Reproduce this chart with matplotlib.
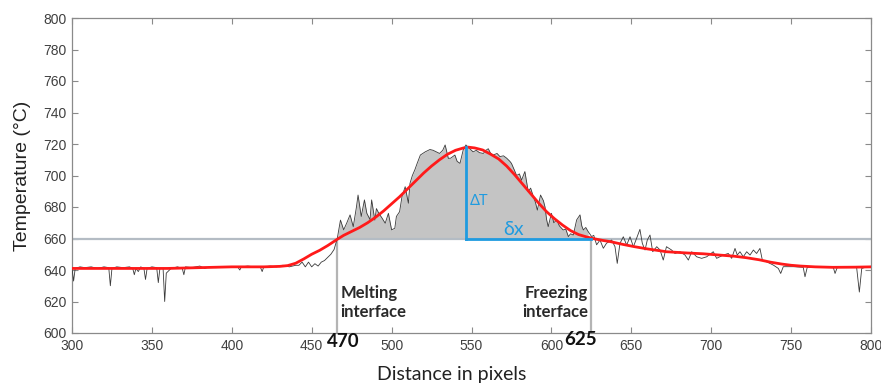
import numpy as np
import matplotlib
matplotlib.use("Agg")
from matplotlib import pyplot as plt

# measured trace (black, noisy)
meas_x = [300, 301, 302, 305, 308, 312, 316, 320, 323, 324, 325, 328, 332, 336, 338, 339, 340, 341.5, 343, 345,
          346, 347, 350, 353, 354, 355, 357, 358, 359, 362, 366, 369, 370, 371, 375, 380, 383, 386, 390, 395,
          400, 404, 405, 406, 410, 414, 418, 419, 420, 424, 428, 432, 436, 440,
          442, 444, 446, 448, 450, 452, 454, 456, 458, 460, 462, 464, 466,
          468, 470, 472, 474, 476, 478, 479, 481, 483, 484.5, 486.5, 487.5, 489.5, 490.5, 492, 494, 496, 498,
          500, 502, 503, 505, 506.5, 508.5, 510.5, 511.5, 513, 514.5, 516, 518, 521, 524, 526, 528, 530, 532,
          533.5, 535.5, 537, 539.6, 541, 542.8, 544.8, 546.5,
          549, 551, 553, 555, 557.4, 559, 560.5, 562, 563.6, 566, 567.8, 570, 572, 574, 575, 577, 578.2, 580,
          581.3, 583.4, 585.5, 587, 588.7, 590, 591.2, 593.2, 595, 596, 597, 598, 600, 601.5, 603.3, 605, 607.4,
          609, 610.6, 612, 613.7, 615.8, 617.9, 619, 620, 621.5, 623, 625.2, 626.5, 628.3, 630.4, 632.5, 634.5,
          637.7, 639.8, 641.2, 642.9, 645, 647.1, 649.2, 651.3, 652.9, 654.4, 655.4, 656.9, 658.6, 660, 661.7,
          663.4, 665.9, 668, 670, 672, 675.2, 677.3, 680.5, 683.6, 685.7, 687.8, 690.9, 694, 697.2, 701.3, 703.4,
          707.6, 710.7, 712.8, 714.9, 716.3, 718, 720.1, 722.2, 724.3, 726.4, 728.4, 730.5, 732, 734.7, 738.9,
          742, 743.5, 745.1, 751.4, 757.6, 758.7, 760.1, 768.1, 776.4, 777.5, 778.9, 791, 792.7, 794.2, 797.3, 800]
meas_t = [641, 633, 641, 642, 641.5, 642, 641, 642, 641.5, 630, 641, 642, 641.5, 642, 641, 637, 641, 639, 642, 641,
          634, 641, 642, 641.5, 632, 641, 641, 620, 638, 641, 642, 641, 637, 642, 641.5, 642.5, 641, 642, 641.5, 642,
          642, 641.5, 640, 642, 642.5, 642, 641.5, 639, 642, 642.5, 642, 643, 642, 643,
          643, 645, 642, 645, 642, 644, 642.5, 645, 646, 648, 650, 653, 660,
          671.7, 665.5, 670, 675, 667.5, 680, 687.6, 674, 684.5, 676, 672, 684.5, 671.7, 679, 676, 673, 669.7, 676,
          665.5, 666.5, 674, 677, 686.6, 692.9, 682.4, 695, 700, 703.5, 707.7, 713, 715, 716.5, 716, 715, 714, 716,
          719.4, 710.9, 711, 713, 709, 707.7, 716.2, 719.4,
          717, 715, 716, 714.5, 714, 716, 717, 714, 713, 714, 712, 712.5, 711, 709, 707.7, 703, 700, 701,
          697, 702.5, 689.8, 692, 686.6, 683, 678, 687.6, 684, 680, 672, 667.5, 676, 670, 671.8, 668, 665.4,
          666, 661.2, 663, 662.2, 671.8, 675, 668, 665.4, 667, 664.4, 661.2, 662, 656, 659, 653.8, 657,
          659, 654.8, 644.2, 656.9, 661.1, 655.8, 661.1, 654.8, 659, 663.2, 665.8, 656.9, 652.7, 659, 662.2,
          651.6, 654.8, 652.7, 646.3, 654.8, 652.7, 650.5, 651.6, 649.5, 646.3, 651.6, 648.4, 647.4, 648.4, 651.6, 647.4,
          649.5, 650.5, 647.4, 653.7, 649.5, 651.6, 648.4, 651.6, 649.5, 652.7, 650.5, 653.7, 646.3, 645.2, 643.1,
          641, 637.8, 642.1, 642.1, 641.7, 635.7, 641.7, 641.7, 641.7, 637.8, 641.7, 641.7, 626, 641, 642, 642]

# fitted profile (red)
fit_x = [300, 320, 340, 360, 380, 400, 420, 430, 435, 440, 445, 450, 455, 460, 463, 466, 470, 475, 480, 485, 490,
         495, 500, 505, 510, 515, 520, 525, 530, 535, 540, 545, 548, 552, 557, 562, 567, 572, 577, 582, 587, 592,
         597, 602, 607, 612, 617, 622, 627, 632, 637, 645, 652, 660, 672, 685, 695, 705, 714, 722, 730, 737, 744,
         750, 756, 765, 776, 790, 800]
fit_t = [641, 641, 641, 641, 641.5, 642, 642, 642.3, 642.8, 644.3, 647, 650, 652.5, 655.5, 657.5, 659.5, 662,
         664.5, 667, 670, 673.5, 677.5, 682, 686.5, 691.5, 696.5, 701.5, 706, 710, 713.5, 716, 717.5, 718, 717.5,
         716.2, 713.5, 710.5, 706, 700.5, 694.5, 688.5, 682.5, 677, 672.5, 668.5, 665, 662.5, 661, 659.8, 658.8,
         658, 656.2, 654.8, 653.4, 651.6, 650.8, 650.3, 649.5, 648.8, 647.8, 646.5, 645, 643.8, 643, 642.5, 642,
         641.7, 641.8, 642]

t_liquidus = 660
x_melt = 466
x_freeze = 625
x_peak = 546.5
melt_label = "470"
freeze_label = "625"

plt.rcParams['font.family'] = ['Liberation Sans', 'DejaVu Sans']
fig = plt.figure(figsize=(8.81, 3.88), dpi=100)
ax = fig.add_axes([72 / 881, 1 - 333 / 388, 799 / 881, 315 / 388])

mx = np.array(meas_x)
mt = np.array(meas_t)
sel = (mx >= x_melt) & (mx <= x_freeze)
ax.fill_between(mx[sel], t_liquidus, mt[sel], where=mt[sel] >= t_liquidus, interpolate=True,
                color='#c4c4c4', lw=0, zorder=1)

ax.axhline(t_liquidus, color='#b4bcc4', lw=1.6, zorder=2)
ax.plot([x_melt, x_melt], [600, t_liquidus], color='#b4b4b4', lw=1.6, zorder=2)
ax.plot([x_freeze, x_freeze], [600, t_liquidus], color='#b4b4b4', lw=1.6, zorder=2)

ax.plot(meas_x, meas_t, color='#3a3a3a', lw=0.6, zorder=3)
ax.plot(fit_x, fit_t, color='#ff1a1a', lw=2.0, zorder=4)

# delta T / delta x construction
ax.plot([x_peak, x_peak], [t_liquidus, 718], color='#1f9be0', lw=2, zorder=5)
ax.plot([x_peak, x_freeze], [t_liquidus, t_liquidus], color='#1f9be0', lw=2, zorder=5)
ax.text(549, 684, "ΔT", color='#1f9be0', fontsize=10.5, family=['Lato', 'DejaVu Sans'], va='center', zorder=6)
ax.text(570, 665.5, "δx", color='#1f9be0', fontsize=14, family=['Lato', 'DejaVu Sans'], va='center', zorder=6)

ax.text(468, 630.5, "Melting\ninterface", fontsize=12, fontweight='bold', color='#2a2a2a',
        family=['Lato', 'DejaVu Sans'], va='top', ha='left', linespacing=1.2)
ax.text(623, 630.5, "Freezing\ninterface", fontsize=12, fontweight='bold', color='#2a2a2a',
        family=['Lato', 'DejaVu Sans'], va='top', ha='right', linespacing=1.2)

trans = ax.get_xaxis_transform()
ax.text(469.6, -0.028, melt_label, transform=trans, fontsize=13.5, fontweight='bold', color='#111111',
        family=['Lato', 'DejaVu Sans'], ha='center', va='center')
ax.text(618, -0.022, freeze_label, transform=trans, fontsize=13.5, fontweight='bold', color='#111111',
        family=['Lato', 'DejaVu Sans'], ha='center', va='center')

ax.set_xlim(300, 800)
ax.set_ylim(600, 800)
ax.set_xticks(np.arange(300, 801, 50))
ax.set_yticks(np.arange(600, 801, 20))
ax.tick_params(direction='in', length=4, width=0.8, color='#8a8a8a', labelcolor='#404040', labelsize=10,
               top=True, right=True, pad=4)
for s in ax.spines.values():
    s.set_color('#8a8a8a')
    s.set_linewidth(0.9)

ax.set_xlabel("Distance in pixels", fontsize=14, color='#222222', family=['Lato', 'DejaVu Sans'])
ax.xaxis.set_label_coords((452 - 72) / 799, -0.105)
ax.set_ylabel("Temperature (°C)", fontsize=14, color='#222222')
ax.yaxis.set_label_coords(-0.051, 0.5)

fig.savefig("out.png", dpi=100)
